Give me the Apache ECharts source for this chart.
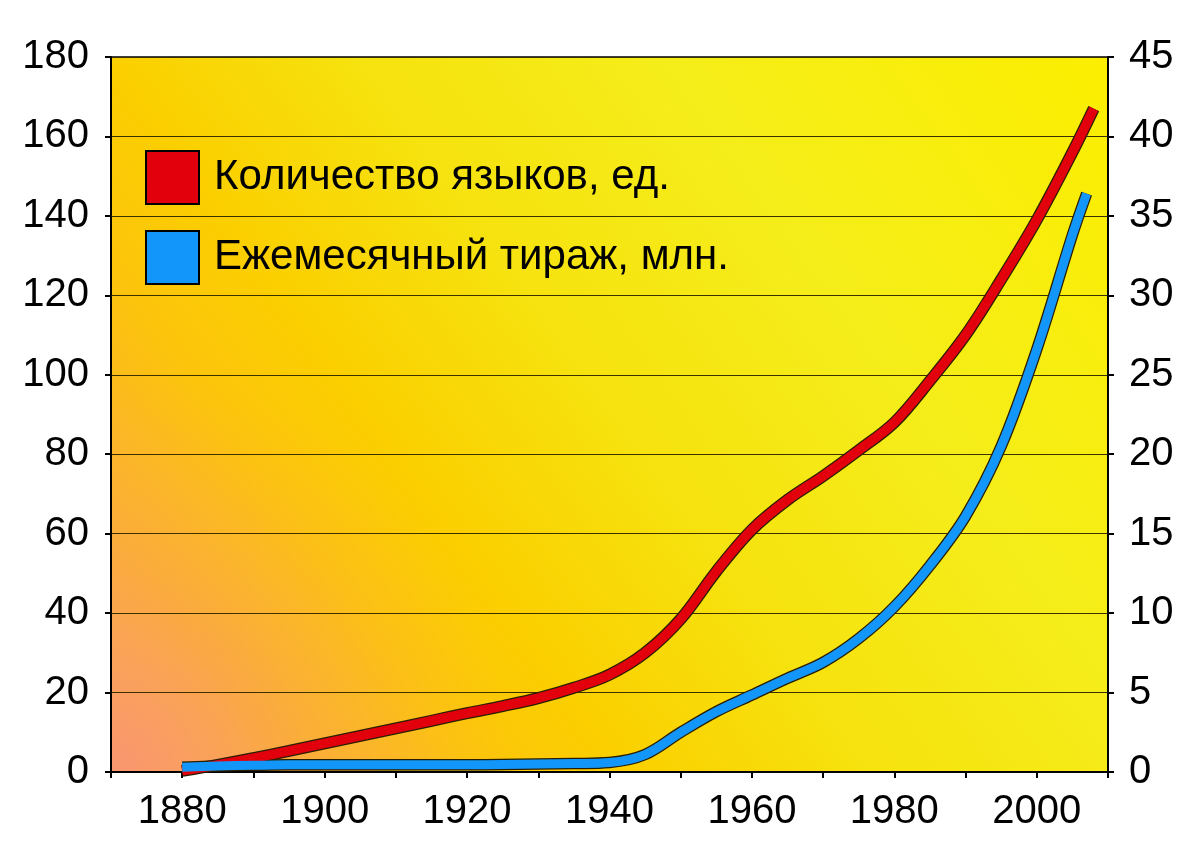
<!DOCTYPE html>
<html>
<head>
<meta charset="utf-8">
<script src="https://cdn.jsdelivr.net/npm/echarts@6/dist/echarts.min.js"></script>
<style>
html,body{margin:0;padding:0;background:#fff;}
#chart{width:1197px;height:852px;}
</style>
</head>
<body>
<div id="chart"></div>
<script>
// Number of languages (left axis, units)
const langYears  = [1880, 1885, 1890, 1895, 1900, 1905, 1910, 1915, 1920, 1925, 1930, 1935, 1940, 1945, 1950, 1955, 1960, 1965, 1970, 1975, 1980, 1985, 1990, 1995, 2000, 2005, 2008];
const langValues = [0.3, 1.8, 3.5, 5.3, 7.2, 9.1, 11, 12.9, 14.8, 16.6, 18.6, 21.2, 24.5, 30, 38.5, 50.5, 61, 68.5, 74.5, 81, 88, 98.5, 110, 124, 139, 156, 167];
// Monthly circulation (right axis, millions)
const circYears  = [1880, 1885, 1890, 1895, 1900, 1905, 1910, 1915, 1920, 1925, 1930, 1935, 1940, 1945, 1950, 1955, 1960, 1965, 1970, 1975, 1980, 1985, 1990, 1995, 2000, 2005, 2007];
const circValues = [0.3, 0.38, 0.42, 0.45, 0.45, 0.45, 0.45, 0.45, 0.45, 0.47, 0.5, 0.53, 0.6, 1.1, 2.5, 3.8, 4.85, 5.9, 6.9, 8.4, 10.4, 13.0, 16.1, 20.5, 26.6, 33.8, 36.4];
// Tick labels
const xLabelYears = [1880, 1900, 1920, 1940, 1960, 1980, 2000];
const seriesNames = ['Количество языков, ед.', 'Ежемесячный тираж, млн.'];

const RED = '#e1000c', BLUE = '#1296fa', OUT = '#2a1e00';
const pairs = (xs, ys) => xs.map((x, i) => [x, ys[i]]);
const langData = pairs(langYears, langValues);
const circData = pairs(circYears, circValues);

const chart = echarts.init(document.getElementById('chart'), null, {renderer: 'canvas'});
const FONT = 'Liberation Sans, Arial, sans-serif';
const G = {left: 111, top: 57, right: 89, bottom: 80};

function lineSeries(name, data, axis, color, width, z) {
  return {name, type: 'line', yAxisIndex: axis, data, smooth: 0.35,
          symbol: 'none', z, silent: true,
          lineStyle: {color, width, cap: 'butt', join: 'round'}, itemStyle: {color}};
}

chart.setOption({
  animation: false,
  backgroundColor: '#ffffff',
  grid: {
    left: G.left, top: G.top, right: G.right, bottom: G.bottom,
    show: true, borderColor: '#000', borderWidth: 1.5,
    backgroundColor: {
      type: 'linear', x: 0, y: 1, x2: 1, y2: 0,
      colorStops: [
        {offset: 0, color: '#f9a070'},
        {offset: 0.12, color: '#fbb030'},
        {offset: 0.24, color: '#fcc40c'},
        {offset: 0.34, color: '#fbcf00'},
        {offset: 0.5, color: '#f6e20e'},
        {offset: 0.7, color: '#f5ed1a'},
        {offset: 1, color: '#fbee00'}
      ]
    }
  },
  graphic: [{
    type: 'rect', z: 1, silent: true,
    shape: {x: G.left, y: G.top, width: 1197 - G.left - G.right, height: 852 - G.top - G.bottom},
    style: {
      fill: {
        type: 'radial', x: G.left, y: 852 - G.bottom, r: 400, global: true,
        colorStops: [
          {offset: 0, color: 'rgba(249,150,112,1)'},
          {offset: 0.5, color: 'rgba(250,165,80,0.4)'},
          {offset: 1, color: 'rgba(251,180,60,0)'}
        ]
      }
    }
  }],
  legend: {
    orient: 'vertical', left: 145, top: 150,
    itemWidth: 53, itemHeight: 53, itemGap: 25, padding: 0,
    textStyle: {fontSize: 42, color: '#000', fontFamily: FONT, padding: [0, 0, 0, 10]},
    data: [
      {name: seriesNames[0], icon: 'rect', itemStyle: {color: RED, borderColor: '#000', borderWidth: 2}},
      {name: seriesNames[1], icon: 'rect', itemStyle: {color: BLUE, borderColor: '#000', borderWidth: 2}}
    ]
  },
  xAxis: {
    type: 'value', min: 1870, max: 2010, interval: 10, z: 1.5,
    axisLine: {lineStyle: {color: '#000', width: 2}},
    axisTick: {show: true, length: 6, lineStyle: {color: '#000', width: 2}},
    axisLabel: {
      fontSize: 40, color: '#000', fontFamily: FONT, margin: 20,
      formatter: v => xLabelYears.indexOf(v) >= 0 ? String(v) : ''
    },
    splitLine: {show: false}
  },
  yAxis: [{
    type: 'value', min: 0, max: 180, interval: 20, position: 'left', z: 1.5,
    axisLine: {show: true, lineStyle: {color: '#000', width: 2}},
    axisTick: {show: true, length: 6, lineStyle: {color: '#000', width: 2}},
    axisLabel: {fontSize: 40, color: '#000', fontFamily: FONT, margin: 22},
    splitLine: {show: true, lineStyle: {color: '#3a3000', width: 1.2}}
  }, {
    type: 'value', min: 0, max: 45, interval: 5, position: 'right', z: 1.5,
    axisLine: {show: true, lineStyle: {color: '#000', width: 2}},
    axisTick: {show: true, length: 6, lineStyle: {color: '#000', width: 2}},
    axisLabel: {fontSize: 40, color: '#000', fontFamily: FONT, margin: 21},
    splitLine: {show: false}
  }],
  series: [
    lineSeries('outline1', langData, 0, OUT, 12, 3),
    lineSeries(seriesNames[0], langData, 0, RED, 9.5, 4),
    lineSeries('outline2', circData, 1, OUT, 11.5, 3),
    lineSeries(seriesNames[1], circData, 1, BLUE, 9, 4)
  ]
});
</script>
</body>
</html>
